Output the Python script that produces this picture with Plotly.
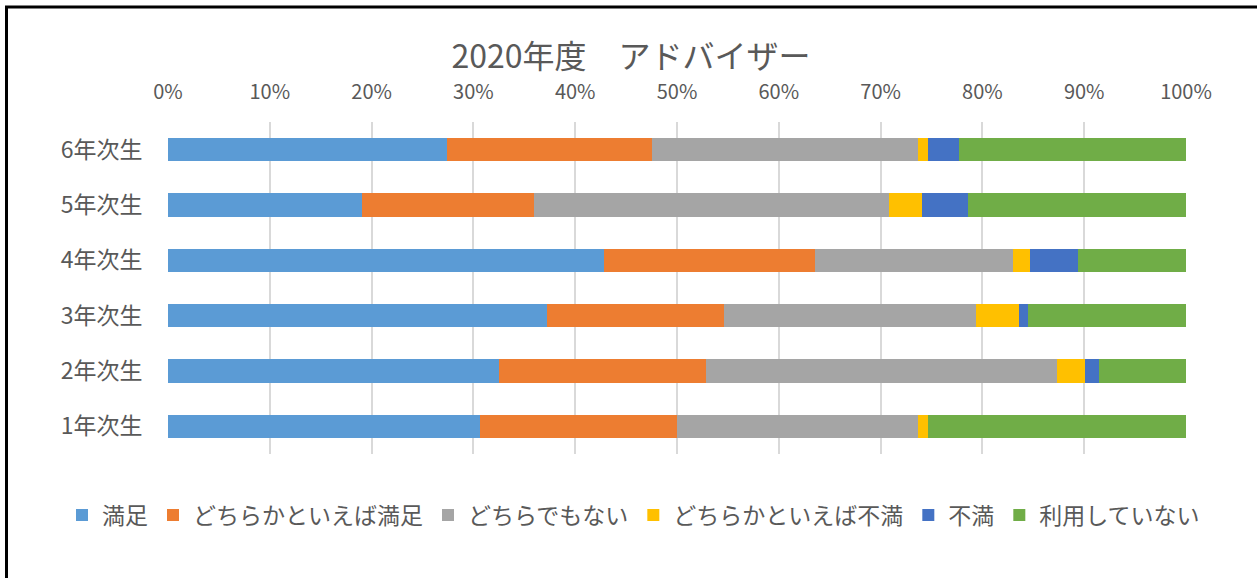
import plotly.graph_objects as go

categories = ["1年次生", "2年次生", "3年次生", "4年次生", "5年次生", "6年次生"]
series_names = ["満足", "どちらかといえば満足", "どちらでもない", "どちらかといえば不満", "不満", "利用していない"]
satisfied = [30.6, 32.5, 37.2, 42.8, 19.1, 27.4]
somewhat_satisfied = [19.4, 20.3, 17.4, 20.8, 16.9, 20.1]
neutral = [23.7, 34.5, 24.8, 19.4, 34.8, 26.2]
somewhat_dissatisfied = [1.0, 2.8, 4.2, 1.7, 3.3, 1.0]
dissatisfied = [0.0, 1.4, 0.9, 4.7, 4.5, 3.0]
not_used = [25.3, 8.5, 15.5, 10.6, 21.4, 22.3]
tick_vals = [0, 10, 20, 30, 40, 50, 60, 70, 80, 90, 100]
tick_text = ["0%", "10%", "20%", "30%", "40%", "50%", "60%", "70%", "80%", "90%", "100%"]
colors = ["#5B9BD5", "#ED7D31", "#A5A5A5", "#FFC000", "#4472C4", "#70AD47"]

series_values = [satisfied, somewhat_satisfied, neutral, somewhat_dissatisfied, dissatisfied, not_used]

FONT = "Noto Sans CJK JP"
GRAY = "#595959"

fig = go.Figure()
for name, vals, col in zip(series_names, series_values, colors):
    fig.add_trace(go.Bar(
        y=categories, x=vals, name=name, orientation="h",
        marker=dict(color=col, line=dict(width=0)),
        hoverinfo="skip",
    ))

L, R, T, B = 168, 71, 122, 124
W, H = 1257, 578
pw, ph = W - L - R, H - T - B

def px(x):
    return (x - L) / pw

def py(y):
    return (H - B - y) / ph

fig.update_layout(
    width=W, height=H,
    barmode="stack", barnorm="percent", bargap=0.58,
    margin=dict(l=L, r=R, t=T, b=B),
    paper_bgcolor="white", plot_bgcolor="white",
    font=dict(family=FONT, color=GRAY),
    title=dict(text="2020年度　アドバイザー", x=px(631), xref="paper", xanchor="center",
               y=1 - 57 / H, yref="container", yanchor="middle",
               font=dict(size=32, color=GRAY, family=FONT)),
    xaxis=dict(side="top", range=[0, 100], tickvals=tick_vals, ticktext=tick_text,
               showgrid=True, gridcolor="#D9D9D9", gridwidth=2,
               zeroline=False, showline=False,
               ticks="outside", ticklen=14, tickcolor="rgba(0,0,0,0)",
               tickfont=dict(size=20, color=GRAY, family=FONT), fixedrange=True),
    yaxis=dict(categoryorder="array", categoryarray=categories,
               showgrid=False, zeroline=False, showline=False,
               ticks="outside", ticklen=20, tickcolor="rgba(0,0,0,0)",
               tickfont=dict(size=23, color=GRAY, family=FONT), fixedrange=True),
    legend=dict(orientation="h", x=px(62), xanchor="left", y=py(515), yanchor="middle",
                font=dict(size=23, color=GRAY, family=FONT), traceorder="normal",
                itemwidth=30, bgcolor="rgba(0,0,0,0)"),
    shapes=[
        dict(type="line", xref="paper", yref="paper", x0=px(6.5), x1=px(6.5), y0=py(6), y1=py(600),
             line=dict(color="black", width=3)),
        dict(type="line", xref="paper", yref="paper", x0=px(5), x1=px(1300), y0=py(7), y1=py(7),
             line=dict(color="black", width=3)),
    ],
)

fig.write_html("out.html", config={"displayModeBar": False},
               post_script="document.body.style.margin='0';")
